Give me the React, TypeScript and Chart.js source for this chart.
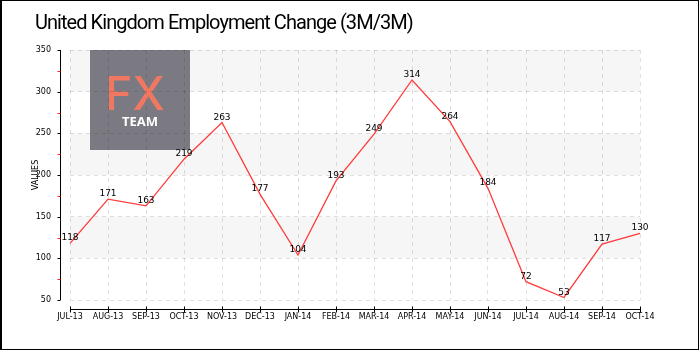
import React, { useEffect, useRef } from "react";
import { Chart, registerables } from "chart.js";

Chart.register(...registerables);

const TITLE = "United Kingdom Employment Change (3M/3M)";
const AXIS_TITLE = "VALUES";
const categories = [
  "JUL-13", "AUG-13", "SEP-13", "OCT-13", "NOV-13", "DEC-13", "JAN-14", "FEB-14",
  "MAR-14", "APR-14", "MAY-14", "JUN-14", "JUL-14", "AUG-14", "SEP-14", "OCT-14",
];
const values = [118, 171, 163, 219, 263, 177, 104, 193, 249, 314, 264, 184, 72, 53, 117, 130];
const Y_MIN = 50;
const Y_MAX = 350;
const Y_STEP = 50;
const LOGO_TOP = "FX";
const LOGO_BOTTOM = "TEAM";

const TICK_FONT = { family: "'DejaVu Sans', sans-serif", size: 8 };
const GRID_COLOR = "rgba(0,0,0,0.12)";

const decorPlugin = {
  id: "decor",
  beforeDraw(chart: any) {
    const { ctx, chartArea } = chart;
    const { left, right, top } = chartArea;
    const y = chart.scales.y;
    ctx.save();
    for (let v = Y_MIN, k = 0; v < Y_MAX; v += Y_STEP, k++) {
      if (k % 2 === 1) {
        const yTop = y.getPixelForValue(v + Y_STEP);
        const yBot = y.getPixelForValue(v);
        ctx.fillStyle = "#f6f6f6";
        ctx.fillRect(left, yTop, right - left, yBot - yTop);
      }
    }
    const x0 = left + 20;
    const y0 = top;
    ctx.fillStyle = "#7b7a82";
    ctx.fillRect(x0, y0, 100, 100);
    ctx.fillStyle = "#f07863";
    ctx.font = "500 46px Inter, 'Open Sans', sans-serif";
    ctx.textAlign = "center";
    ctx.textBaseline = "alphabetic";
    ctx.fillText(LOGO_TOP, x0 + 45, y0 + 60);
    ctx.fillStyle = "#ffffff";
    ctx.font = "700 13px 'Open Sans', sans-serif";
    ctx.fillText(LOGO_BOTTOM, x0 + 50, y0 + 76);
    ctx.restore();
  },
  afterDraw(chart: any) {
    const { ctx, chartArea } = chart;
    const { left, right, top, bottom } = chartArea;
    const y = chart.scales.y;
    const x = chart.scales.x;
    ctx.save();
    ctx.lineWidth = 1;
    const ax = Math.round(left - 10) + 0.5;
    ctx.strokeStyle = "#000";
    ctx.beginPath();
    ctx.moveTo(ax, top);
    ctx.lineTo(ax, bottom);
    ctx.stroke();
    for (let v = Y_MIN; v <= Y_MAX; v += Y_STEP) {
      const py = Math.round(y.getPixelForValue(v)) + 0.5;
      ctx.strokeStyle = "#000";
      ctx.beginPath();
      ctx.moveTo(ax - 3, py);
      ctx.lineTo(ax, py);
      ctx.stroke();
      if (v < Y_MAX) {
        const pm = Math.round(y.getPixelForValue(v + Y_STEP / 2)) + 0.5;
        ctx.strokeStyle = "#ff2020";
        ctx.beginPath();
        ctx.moveTo(ax - 3, pm);
        ctx.lineTo(ax, pm);
        ctx.stroke();
      }
    }
    const ay = Math.round(bottom + 9) + 0.5;
    ctx.strokeStyle = "#000";
    ctx.beginPath();
    ctx.moveTo(left, ay);
    ctx.lineTo(right, ay);
    ctx.stroke();
    for (let i = 0; i < categories.length; i++) {
      const px = Math.round(x.getPixelForValue(i)) + 0.5;
      ctx.beginPath();
      ctx.moveTo(px, ay - 3);
      ctx.lineTo(px, ay + 3);
      ctx.stroke();
    }
    ctx.restore();
  },
  afterDatasetsDraw(chart: any) {
    const { ctx } = chart;
    const meta = chart.getDatasetMeta(0);
    ctx.save();
    ctx.fillStyle = "#000";
    ctx.font = "9px 'DejaVu Sans', sans-serif";
    ctx.textAlign = "center";
    ctx.textBaseline = "alphabetic";
    meta.data.forEach((pt: any, i: number) => {
      ctx.fillText(String(values[i]), pt.x, pt.y - 3);
    });
    ctx.restore();
  },
};

export default function App() {
  const ref = useRef<HTMLCanvasElement | null>(null);
  useEffect(() => {
    if (!ref.current) return;
    const chart = new Chart(ref.current, {
      type: "line",
      data: {
        labels: categories,
        datasets: [
          {
            data: values,
            borderColor: "#ff3b3b",
            borderWidth: 1.3,
            pointRadius: 0,
            tension: 0,
            fill: false,
          },
        ],
      },
      options: {
        animation: false,
        responsive: false,
        devicePixelRatio: 1,
        layout: { padding: { top: 50, right: 60, left: 0, bottom: 0 } },
        plugins: {
          legend: { display: false },
          tooltip: { enabled: false },
          title: { display: false },
        },
        scales: {
          x: {
            type: "category",
            offset: false,
            grid: { color: GRID_COLOR, drawTicks: false, lineWidth: 1 },
            border: { display: false, dash: [4, 4] },
            ticks: {
              font: TICK_FONT,
              color: "#000",
              padding: 12,
              maxRotation: 0,
              autoSkip: false,
            },
            afterFit: (s: any) => {
              s.height = 50;
            },
          },
          y: {
            min: Y_MIN,
            max: Y_MAX,
            grid: { color: GRID_COLOR, drawTicks: false, lineWidth: 1 },
            border: { display: false, dash: [4, 4] },
            ticks: { stepSize: Y_STEP, font: TICK_FONT, color: "#000", padding: 19 },
            title: {
              display: true,
              text: AXIS_TITLE,
              color: "#000",
              font: { family: "'DejaVu Sans', sans-serif", size: 8 },
              padding: { top: 31, bottom: 0 },
            },
            afterFit: (s: any) => {
              s.width = 70;
            },
          },
        },
      },
      plugins: [decorPlugin],
    } as any);
    return () => chart.destroy();
  }, []);

  return (
    <div
      style={{
        position: "fixed",
        left: 0,
        top: 0,
        width: 700,
        height: 350,
        background: "#fff",
      }}
    >
      <canvas ref={ref} width={700} height={350} style={{ display: "block", width: 700, height: 350 }} />
      <div
        style={{
          position: "absolute",
          left: 35,
          top: 10,
          fontFamily: "Roboto, sans-serif",
          fontWeight: 400,
          fontSize: 20,
          letterSpacing: "-0.95px",
          lineHeight: "24px",
          color: "#000",
          whiteSpace: "nowrap",
        }}
      >
        {TITLE}
      </div>
      <div
        style={{
          position: "absolute",
          left: 0,
          top: 0,
          width: 699,
          height: 350,
          boxSizing: "border-box",
          border: "1px solid #000",
          borderLeftWidth: 2,
          pointerEvents: "none",
        }}
      />
    </div>
  );
}
